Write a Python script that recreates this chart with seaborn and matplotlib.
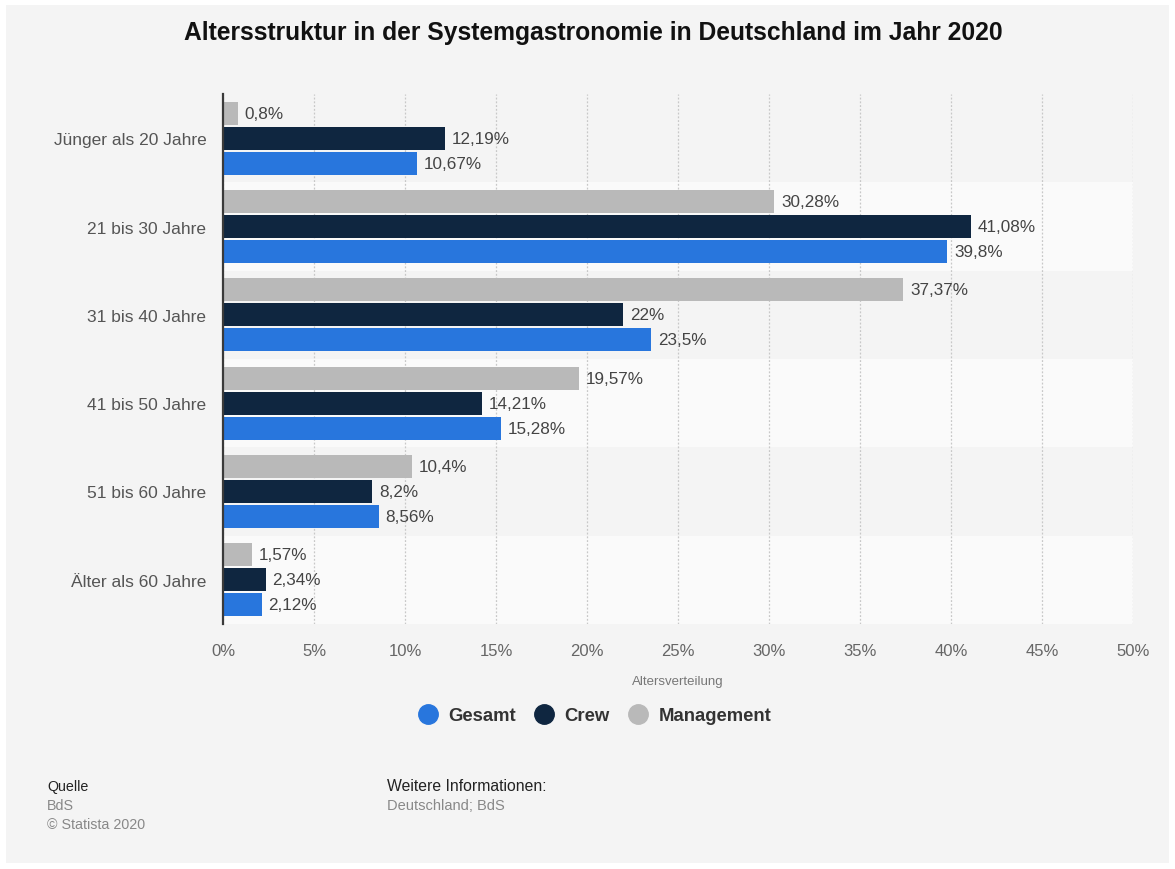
import matplotlib
matplotlib.use("Agg")
import matplotlib.pyplot as plt
from matplotlib.patches import Rectangle
from matplotlib.lines import Line2D
import seaborn as sns
import pandas as pd

categories = ["Jünger als 20 Jahre", "21 bis 30 Jahre", "31 bis 40 Jahre",
              "41 bis 50 Jahre", "51 bis 60 Jahre", "Älter als 60 Jahre"]
gesamt = [10.67, 39.8, 23.5, 15.28, 8.56, 2.12]
crew = [12.19, 41.08, 22, 14.21, 8.2, 2.34]
management = [0.8, 30.28, 37.37, 19.57, 10.4, 1.57]
series_names = ["Gesamt", "Crew", "Management"]
xticks = [0, 5, 10, 15, 20, 25, 30, 35, 40, 45, 50]

colors = {"Gesamt": "#2876dd", "Crew": "#0f2640", "Management": "#b9b9b9"}

rows = []
for name, vals in zip(series_names, [gesamt, crew, management]):
    for c, v in zip(categories, vals):
        rows.append({"Kategorie": c, "Serie": name, "Wert": v})
df = pd.DataFrame(rows)

sns.set_theme(style="white")
plt.rcParams["font.family"] = ["Liberation Sans", "DejaVu Sans"]

W, H = 1175, 870
fig = plt.figure(figsize=(W / 100, H / 100), dpi=100, facecolor="white")
fig.patches.append(Rectangle((6 / W, 6 / H), 1 - 12 / W, 1 - 12 / H,
                             transform=fig.transFigure, facecolor="#f4f4f4",
                             edgecolor="none", zorder=-10))

ax = fig.add_axes([223 / W, 1 - 625 / H, (1133 - 223) / W, (625 - 95) / H])
ax.set_facecolor("none")

# alternating row bands
for i in range(len(categories)):
    col = "#fafafa" if i % 2 == 1 else "#f4f4f4"
    ax.axhspan(i - 0.5, i + 0.5, color=col, zorder=0, lw=0)

hue_order = ["Management", "Crew", "Gesamt"]
sns.barplot(data=df, y="Kategorie", x="Wert", hue="Serie", order=categories,
            hue_order=hue_order, palette=colors, orient="h", width=0.85,
            gap=0.08, ax=ax, legend=False, zorder=3, linewidth=0, saturation=1)

ax.set_xlim(0, 50)
ax.set_ylim(len(categories) - 0.5, -0.5)
ax.set_xticks(xticks)
ax.set_xticklabels([f"{t}%" for t in xticks])
ax.xaxis.grid(True, linestyle=(0, (1.5, 1.5)), color="#c8c8c8", lw=0.9, zorder=1)
ax.set_axisbelow(True)

for s in ["top", "right", "bottom"]:
    ax.spines[s].set_visible(False)
ax.spines["left"].set_color("#3a3a3a")
ax.spines["left"].set_linewidth(1.6)
ax.spines["left"].set_zorder(5)

ax.tick_params(axis="x", length=0, pad=14, labelsize=12, labelcolor="#666666")
ax.tick_params(axis="y", length=0, pad=12, labelsize=12.5, labelcolor="#555555")
ax.set_ylabel("")
ax.set_xlabel("Altersverteilung", fontsize=9.5, color="#777777", labelpad=12)

for cont in ax.containers:
    labels = [f"{v:g}".replace(".", ",") + "%" for v in cont.datavalues]
    ax.bar_label(cont, labels=labels, padding=5, fontsize=12.3, color="#444444")

fig.text(593 / W, 1 - 33 / H,
         "Altersstruktur in der Systemgastronomie in Deutschland im Jahr 2020",
         ha="center", va="center", fontsize=17.7, fontweight="bold", color="#111111")

handles = [Line2D([0], [0], marker="o", linestyle="none", markersize=14,
                  markerfacecolor=colors[n], markeredgecolor=colors[n]) for n in series_names]
fig.legend(handles, series_names, loc="center", bbox_to_anchor=(594 / W, 1 - 717 / H),
           ncol=3, frameon=False, handlelength=1.2, handletextpad=0.52, columnspacing=0.92,
           prop={"weight": "bold", "size": 13.3}, labelcolor="#333333")

fig.text(47 / W, 1 - 787 / H, "Quelle", fontsize=10.3, color="#222222", va="center")
fig.text(47 / W, 1 - 806 / H, "BdS", fontsize=10.3, color="#888888", va="center")
fig.text(47 / W, 1 - 825 / H, "© Statista 2020", fontsize=10.3, color="#888888", va="center")
fig.text(387 / W, 1 - 787 / H, "Weitere Informationen:", fontsize=11.3, color="#222222", va="center")
fig.text(387 / W, 1 - 806 / H, "Deutschland; BdS", fontsize=10.5, color="#888888", va="center")

fig.savefig("out.png", dpi=100, facecolor="white")
